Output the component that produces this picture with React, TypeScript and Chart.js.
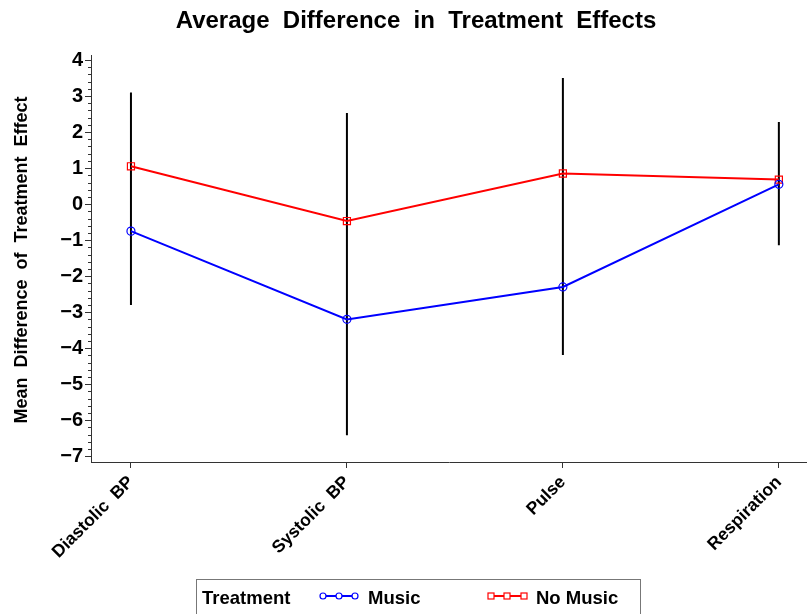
import React, { useEffect, useRef } from "react";
import { Chart, registerables } from "chart.js";

Chart.register(...registerables);

const categories = ["Diastolic  BP", "Systolic  BP", "Pulse", "Respiration"];
const musicMeans = [-0.75, -3.2, -2.3, 0.55];
const noMusicMeans = [1.05, -0.47, 0.85, 0.68];
const errLow = [-2.8, -6.42, -4.19, -1.14];
const errHigh = [3.1, 2.53, 3.5, 2.28];
const yTickValues = [-7, -6, -5, -4, -3, -2, -1, 0, 1, 2, 3, 4];

const TITLE = "Average  Difference  in  Treatment  Effects";
const Y_TITLE = "Mean  Difference  of  Treatment  Effect";
const LEGEND_TITLE = "Treatment";
const FONT = "'Liberation Sans', Arial, sans-serif";

const fmt = (v: number) => (v < 0 ? "\u2212" + Math.abs(v) : String(v));

export default function App() {
  const ref = useRef<HTMLCanvasElement | null>(null);

  useEffect(() => {
    if (!ref.current) return;

    const errData: any[] = [];
    categories.forEach((_, i) => {
      errData.push({ x: i, y: errLow[i] });
      errData.push({ x: i, y: errHigh[i] });
      errData.push({ x: i + 0.5, y: null });
    });

    const decor = {
      id: "decor",
      afterDraw(chart: any) {
        const ctx = chart.ctx;
        const ys = chart.scales.y;
        const xs = chart.scales.x;
        ctx.save();
        // minor ticks on y
        ctx.strokeStyle = "#333";
        ctx.lineWidth = 1;
        for (let v = -7; v <= 4.0001; v += 0.2) {
          const r = Math.round(v * 5) / 5;
          if (Math.abs(r - Math.round(r)) < 1e-6) continue;
          const py = Math.round(ys.getPixelForValue(r)) + 0.5;
          ctx.beginPath();
          ctx.moveTo(xs.left - 3, py);
          ctx.lineTo(xs.left, py);
          ctx.stroke();
        }
        // title
        ctx.fillStyle = "#000";
        ctx.font = `bold 24px ${FONT}`;
        ctx.textAlign = "center";
        ctx.textBaseline = "middle";
        ctx.fillText(TITLE, 416, 21);
        // y title
        ctx.save();
        ctx.translate(22, 260);
        ctx.rotate(-Math.PI / 2);
        ctx.font = `bold 18px ${FONT}`;
        ctx.fillText(Y_TITLE, 0, 0);
        ctx.restore();
        // legend
        ctx.strokeStyle = "#777";
        ctx.lineWidth = 1;
        ctx.strokeRect(196.5, 579.5, 444, 40);
        ctx.font = `bold 18.5px ${FONT}`;
        ctx.textAlign = "left";
        ctx.fillStyle = "#000";
        const ly = 599;
        ctx.fillText(LEGEND_TITLE, 202, ly);
        const ds = chart.data.datasets;
        // Music
        ctx.strokeStyle = "#0000ff";
        ctx.lineWidth = 2;
        ctx.beginPath();
        ctx.moveTo(320, 596);
        ctx.lineTo(358, 596);
        ctx.stroke();
        ctx.lineWidth = 1.2;
        [323, 339, 355].forEach((cx) => {
          ctx.beginPath();
          ctx.arc(cx, 596, 3, 0, Math.PI * 2);
          ctx.fillStyle = "#fff";
          ctx.fill();
          ctx.stroke();
        });
        ctx.fillStyle = "#000";
        ctx.fillText(ds[1].label, 368, ly);
        // No Music
        ctx.strokeStyle = "#ff0000";
        ctx.lineWidth = 2;
        ctx.beginPath();
        ctx.moveTo(488, 596);
        ctx.lineTo(527, 596);
        ctx.stroke();
        ctx.lineWidth = 1.2;
        [491, 507, 524].forEach((cx) => {
          ctx.fillStyle = "#fff";
          ctx.fillRect(cx - 3, 593, 6, 6);
          ctx.strokeRect(cx - 3, 593, 6, 6);
        });
        ctx.fillStyle = "#000";
        ctx.fillText(ds[2].label, 536, ly);
        ctx.restore();
      },
    };

    const chart = new Chart(ref.current, {
      type: "line",
      data: {
        datasets: [
          {
            label: "CI",
            data: errData,
            borderColor: "#000",
            borderWidth: 2,
            pointRadius: 0,
            spanGaps: false,
            order: 3,
          } as any,
          {
            label: "Music",
            data: musicMeans.map((y, i) => ({ x: i, y })),
            borderColor: "#0000ff",
            backgroundColor: "rgba(0,0,0,0)",
            borderWidth: 2,
            pointStyle: "circle",
            pointRadius: 4,
            pointBorderWidth: 1.2,
            order: 1,
          },
          {
            label: "No Music",
            data: noMusicMeans.map((y, i) => ({ x: i, y })),
            borderColor: "#ff0000",
            backgroundColor: "rgba(0,0,0,0)",
            borderWidth: 2,
            pointStyle: "rect",
            pointRadius: 5,
            pointBorderWidth: 1.2,
            order: 2,
          },
        ],
      },
      options: {
        animation: false,
        responsive: false,
        maintainAspectRatio: false,
        layout: { padding: { top: 55, right: 0, left: 0, bottom: 0 } },
        plugins: {
          legend: { display: false },
          title: { display: false },
          tooltip: { enabled: false },
        },
        scales: {
          x: {
            type: "linear",
            min: -0.185,
            max: 3.134,
            afterFit: (s: any) => {
              s.height = 152;
              s.paddingLeft = 0;
              s.paddingRight = 0;
            },
            afterBuildTicks: (s: any) => {
              s.ticks = categories.map((_, i) => ({ value: i }));
            },
            ticks: {
              autoSkip: false,
              maxRotation: 45,
              minRotation: 45,
              padding: 4,
              color: "#000",
              font: { family: FONT, size: 17.5, weight: "bold" },
              callback: (v: any) => categories[Number(v)] ?? "",
            },
            grid: {
              display: true,
              drawOnChartArea: false,
              drawTicks: true,
              tickLength: 6,
              color: "#333",
            },
            border: { display: true, color: "#333", width: 1 },
          },
          y: {
            type: "linear",
            min: -7.16,
            max: 4.14,
            afterFit: (s: any) => {
              s.width = 91;
              s.paddingTop = 0;
              s.paddingBottom = 0;
            },
            afterBuildTicks: (s: any) => {
              s.ticks = yTickValues.map((v) => ({ value: v }));
            },
            ticks: {
              padding: 2,
              color: "#000",
              font: { family: FONT, size: 20, weight: "bold" },
              callback: (v: any) => fmt(Number(v)),
            },
            grid: {
              display: true,
              drawOnChartArea: false,
              drawTicks: true,
              tickLength: 6,
              color: "#333",
            },
            border: { display: true, color: "#333", width: 1 },
          },
        },
      } as any,
      plugins: [decor],
    });

    return () => chart.destroy();
  }, []);

  return (
    <div style={{ position: "fixed", left: 0, top: 0, width: 807, height: 614, overflow: "hidden", background: "#fff" }}>
      <canvas ref={ref} width={814} height={614} style={{ display: "block" }} />
    </div>
  );
}
